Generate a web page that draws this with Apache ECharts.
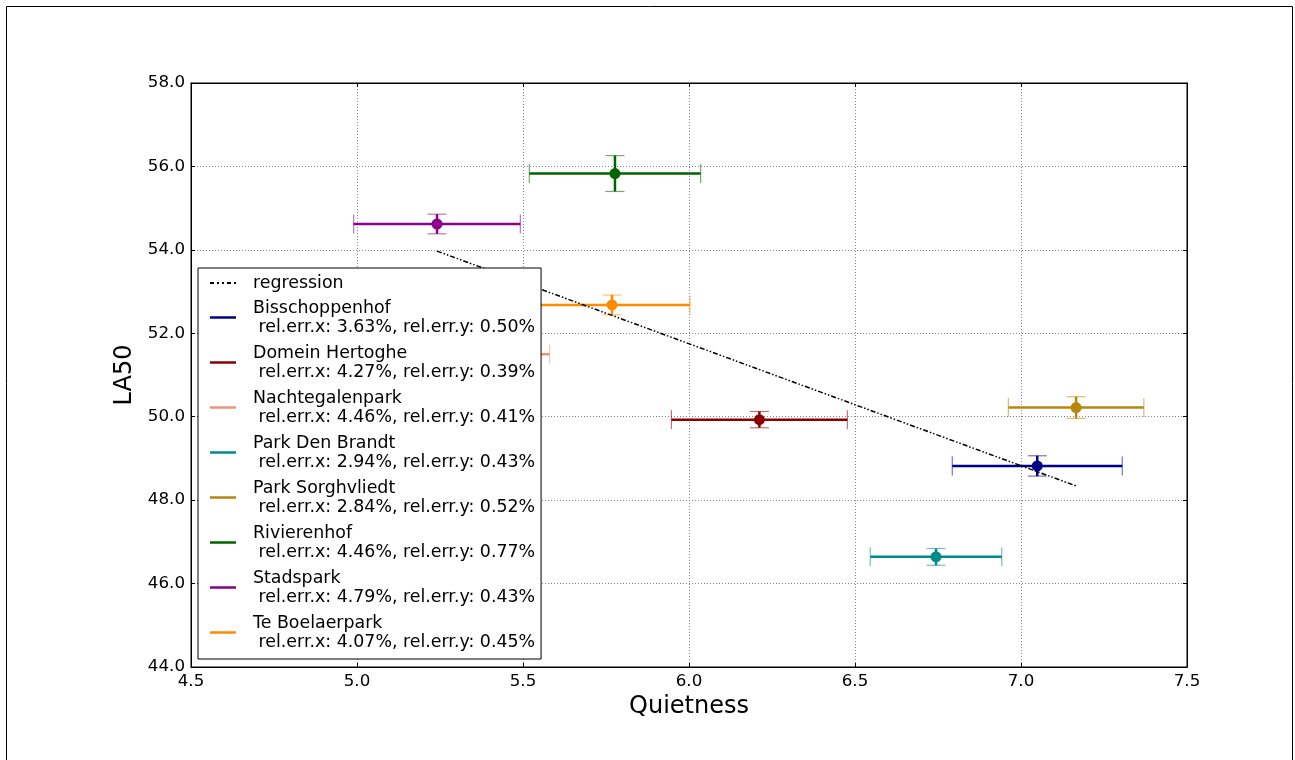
<!DOCTYPE html>
<html>
<head>
<meta charset="utf-8">
<script src="https://cdn.jsdelivr.net/npm/echarts@6/dist/echarts.min.js"></script>
<style>
html,body{margin:0;padding:0;background:#fff;}
#chart{width:1295px;height:760px;}
</style>
</head>
<body>
<div id="chart"></div>
<script>
// ---- data ----
const parks = ['Bisschoppenhof', 'Domein Hertoghe', 'Nachtegalenpark', 'Park Den Brandt',
               'Park Sorghvliedt', 'Rivierenhof', 'Stadspark', 'Te Boelaerpark'];
const quietness = [7.049, 6.212, 5.342, 6.744, 7.166, 5.777, 5.241, 5.768];
const la50      = [48.82, 49.93, 51.50, 46.64, 50.22, 55.83, 54.62, 52.68];
const xErr      = [0.256, 0.265, 0.238, 0.198, 0.204, 0.258, 0.251, 0.235];
const yErr      = [0.244, 0.195, 0.211, 0.201, 0.261, 0.430, 0.235, 0.237];
const relErrX   = ['3.63%', '4.27%', '4.46%', '2.94%', '2.84%', '4.46%', '4.79%', '4.07%'];
const relErrY   = ['0.50%', '0.39%', '0.41%', '0.43%', '0.52%', '0.77%', '0.43%', '0.45%'];
const parkColors = ['#00008B', '#8B0000', '#E9967A', '#008B8B', '#B8860B', '#006400', '#8B008B', '#FF8C00'];
const regX = [5.241, 7.166];
const regY = [53.97, 48.34];
const xTicks = [4.5, 7.5, 0.5]; // min, max, step
const yTicks = [44, 58, 2];

const FONT = 'DejaVu Sans';
const LEGEND_FS = 17.4;

function makeRender(color) {
  return function (params, api) {
    const x = api.value(0), y = api.value(1), ex = api.value(2), ey = api.value(3);
    const c = api.coord([x, y]);
    const l = api.coord([x - ex, y]);
    const r = api.coord([x + ex, y]);
    const t = api.coord([x, y + ey]);
    const b = api.coord([x, y - ey]);
    const cap = 9.5;
    const capStyle = {stroke: color, lineWidth: 1.2, opacity: 0.55};
    const barStyle = {stroke: color, lineWidth: 2.5};
    return {
      type: 'group',
      children: [
        {type: 'line', shape: {x1: l[0], y1: l[1], x2: r[0], y2: r[1]}, style: barStyle},
        {type: 'line', shape: {x1: t[0], y1: t[1], x2: b[0], y2: b[1]}, style: barStyle},
        {type: 'line', shape: {x1: l[0], y1: l[1] - cap, x2: l[0], y2: l[1] + cap}, style: capStyle},
        {type: 'line', shape: {x1: r[0], y1: r[1] - cap, x2: r[0], y2: r[1] + cap}, style: capStyle},
        {type: 'line', shape: {x1: t[0] - cap, y1: t[1], x2: t[0] + cap, y2: t[1]}, style: capStyle},
        {type: 'line', shape: {x1: b[0] - cap, y1: b[1], x2: b[0] + cap, y2: b[1]}, style: capStyle},
        {type: 'circle', shape: {cx: c[0], cy: c[1], r: 5.5}, style: {fill: color}}
      ]
    };
  };
}

const series = parks.map((p, i) => ({
  name: p,
  type: 'custom',
  xAxisIndex: 0, yAxisIndex: 0,
  itemStyle: {color: parkColors[i]},
  renderItem: makeRender(parkColors[i]),
  data: [[quietness[i], la50[i], xErr[i], yErr[i]]],
  z: 2
}));
series.push({
  name: 'regression',
  type: 'line',
  xAxisIndex: 0, yAxisIndex: 0,
  symbol: 'none',
  data: regX.map((x, i) => [x, regY[i]]),
  lineStyle: {color: '#000', width: 1.5, type: [5, 2, 1.5, 2, 1.5, 2]},
  itemStyle: {color: '#000'},
  z: 3
});

const axisCommon = {
  type: 'value',
  axisLine: {show: true, lineStyle: {color: '#000', width: 1}},
  axisTick: {show: true, inside: true, length: 4, lineStyle: {color: '#000'}},
};

const option = {
  animation: false,
  backgroundColor: '#fff',
  textStyle: {fontFamily: FONT},
  graphic: [{
    type: 'rect', silent: true, z: -10,
    shape: {x: 6.5, y: 6.5, width: 1286, height: 800},
    style: {fill: 'none', stroke: '#000', lineWidth: 1}
  }],
  grid: {left: 191, top: 83, width: 996, height: 584, show: true, borderColor: '#000', borderWidth: 1},
  xAxis: [
    Object.assign({}, axisCommon, {
      min: xTicks[0], max: xTicks[1], interval: xTicks[2], position: 'bottom',
      name: 'Quietness', nameLocation: 'middle', nameGap: 23,
      nameTextStyle: {fontSize: 24, color: '#000', fontFamily: FONT},
      axisLabel: {fontSize: 16.7, color: '#000', margin: 6, fontFamily: FONT, formatter: v => v.toFixed(1)},
      splitLine: {show: true, lineStyle: {color: '#888', type: [1, 2], width: 1}}
    }),
    Object.assign({}, axisCommon, {
      min: xTicks[0], max: xTicks[1], interval: xTicks[2], position: 'top',
      axisLabel: {show: false}, splitLine: {show: false}
    })
  ],
  yAxis: [
    Object.assign({}, axisCommon, {
      min: yTicks[0], max: yTicks[1], interval: yTicks[2], position: 'left',
      name: 'LA50', nameLocation: 'middle', nameGap: 38, nameRotate: 90,
      nameTextStyle: {fontSize: 24, color: '#000', fontFamily: FONT},
      axisLabel: {fontSize: 16.7, color: '#000', margin: 6, fontFamily: FONT, formatter: v => v.toFixed(1)},
      splitLine: {show: true, lineStyle: {color: '#888', type: [1, 2], width: 1}}
    }),
    Object.assign({}, axisCommon, {
      min: yTicks[0], max: yTicks[1], interval: yTicks[2], position: 'right',
      axisLabel: {show: false}, splitLine: {show: false}
    })
  ],
  legend: [
    {
      data: parks.map(p => ({name: p, icon: 'path://M0,0H26V2.5H0Z'})),
      orient: 'vertical',
      left: 198, top: 268,
      padding: [30.5, 6, 7.5, 12],
      itemWidth: 26, itemHeight: 38, itemGap: 7,
      backgroundColor: '#fff', borderColor: '#000', borderWidth: 1, borderRadius: 0,
      selectedMode: false,
      textStyle: {fontSize: LEGEND_FS, color: '#000', fontFamily: FONT, lineHeight: 19, padding: [0, 0, 0, 12]},
      formatter: function (name) {
        const i = parks.indexOf(name);
        return name + '\n rel.err.x: ' + relErrX[i] + ', rel.err.y: ' + relErrY[i];
      },
      z: 4
    },
    {
      data: [{name: 'regression',
              icon: 'path://M0,0H4V2H0Z M7,0H9V2H7Z M12,0H14V2H12Z M17,0H21V2H17Z M24,0H26V2H24Z'}],
      orient: 'vertical',
      left: 210, top: 273.5,
      padding: 0,
      itemWidth: 26, itemHeight: 19,
      selectedMode: false,
      textStyle: {fontSize: LEGEND_FS, color: '#000', fontFamily: FONT, lineHeight: 19, padding: [0, 0, 0, 12]},
      z: 6
    }
  ],
  series: series
};

const chart = echarts.init(document.getElementById('chart'), null, {renderer: 'canvas'});
chart.setOption(option);
</script>
</body>
</html>
